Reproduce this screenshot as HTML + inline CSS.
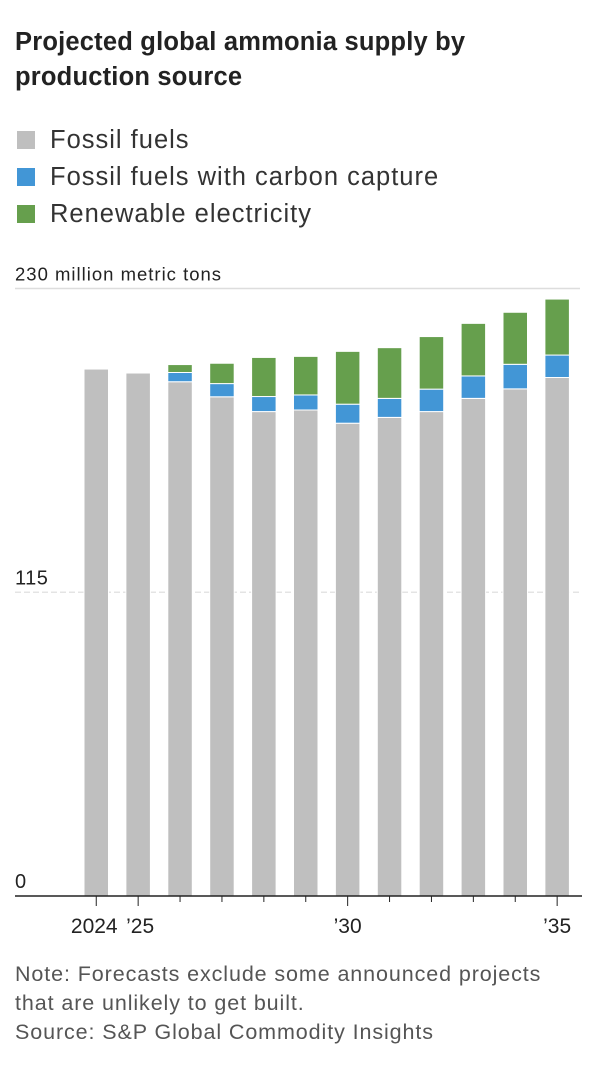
<!DOCTYPE html>
<html><head><meta charset="utf-8"><style>
body{margin:0;background:#fff;font-family:"Liberation Sans",sans-serif;color:#222;}
.wrap{position:relative;width:600px;height:1074px;overflow:hidden;}
h1{position:absolute;left:15px;top:25px;margin:0;font-size:25.5px;line-height:35px;font-weight:bold;letter-spacing:0.2px;width:500px;}
.leg{position:absolute;left:17px;font-size:25.5px;letter-spacing:1px;color:#333;}
.leg span{display:inline-block;width:18px;height:18px;vertical-align:-1px;margin-right:15px;}
.note{position:absolute;left:15px;top:960px;font-size:21.5px;letter-spacing:0.9px;line-height:29px;color:#555;}
</style></head><body><div class="wrap">
<h1>Projected global ammonia supply by production source</h1>
<div class="leg" style="top:126px"><span style="background:#bfbfbf"></span>Fossil fuels</div>
<div class="leg" style="top:163px"><span style="background:#4296d6"></span>Fossil fuels with carbon capture</div>
<div class="leg" style="top:200px"><span style="background:#669f4d"></span>Renewable electricity</div>
<svg id="chart" width="600" height="960" style="position:absolute;left:0;top:0"></svg>
<div class="note">Note: Forecasts exclude some announced projects<br>that are unlikely to get built.<br>Source: S&amp;P Global Commodity Insights</div>
</div>
<script>
const years=["2024","'25","'26","'27","'28","'29","'30","'31","'32","'33","'34","'35"];
const fossil=[199.5,198,194.7,189,183.4,184,179,181.2,183.4,188.4,192,196.3];
const ccs=[0,0,3.5,5,5.7,5.7,7.2,7.2,8.5,8.5,9.3,8.5];
const renew=[0,0,3,7.7,14.8,14.6,20,19.2,19.9,19.9,19.7,21.2];
const yTicks=[0,115,230];
const xLabels={0:"2024",1:"\u201925",6:"\u201930",11:"\u201935"};
const svg=document.getElementById('chart');const NS="http://www.w3.org/2000/svg";
const y0=896,ppu=607.5/230;const yS=v=>y0-v*ppu;
const x0=84,step=41.9,bw=24.5;const xS=i=>x0+i*step;
function mk(t,a){const e=document.createElementNS(NS,t);for(const k in a)e.setAttribute(k,a[k]);svg.appendChild(e);return e;}
yTicks.forEach(v=>{
 if(v>0){const g=mk('line',{x1:15,x2:580,y1:yS(v),y2:yS(v),stroke:v===230?'#ddd':'#e4e4e4','stroke-width':1.5,'stroke-dasharray':v===230?'':'6,3'});
 
 }
 const t=mk('text',{x:15,y:yS(v)-8,'font-size':v===230?18.5:20,'letter-spacing':v===230?1:0.5,fill:'#222','font-family':'Liberation Sans, sans-serif'});
 t.textContent=v===230?'230 million metric tons':String(v);
 
 
});
years.forEach((yr,i)=>{
 const x=xS(i);let base=0;
 [[fossil[i],'#bfbfbf','bar-fossil'],[ccs[i],'#4296d6','bar-ccs'],[renew[i],'#669f4d','bar-renewable']].forEach(([v,c,n])=>{
  if(v<=0)return;
  const r=mk('rect',{x:x,y:yS(base+v),width:bw,height:v*ppu,fill:c,stroke:'#fff','stroke-width':1});
  
  
  base+=v;});
 const tk=mk('line',{x1:x+bw/2,x2:x+bw/2,y1:y0,y2:y0+(xLabels[i]?10:6),stroke:'#222','stroke-width':1});
 
 
 if(xLabels[i]){const t=mk('text',{x:x+bw/2+(i===0?-2:i===1?2:0),y:933,'text-anchor':'middle','font-size':21,fill:'#222','font-family':'Liberation Sans, sans-serif'});
  t.textContent=xLabels[i];
  
  }
});
const ax=mk('line',{x1:15,x2:582,y1:y0,y2:y0,stroke:'#222','stroke-width':1.5});


</script></body></html>
